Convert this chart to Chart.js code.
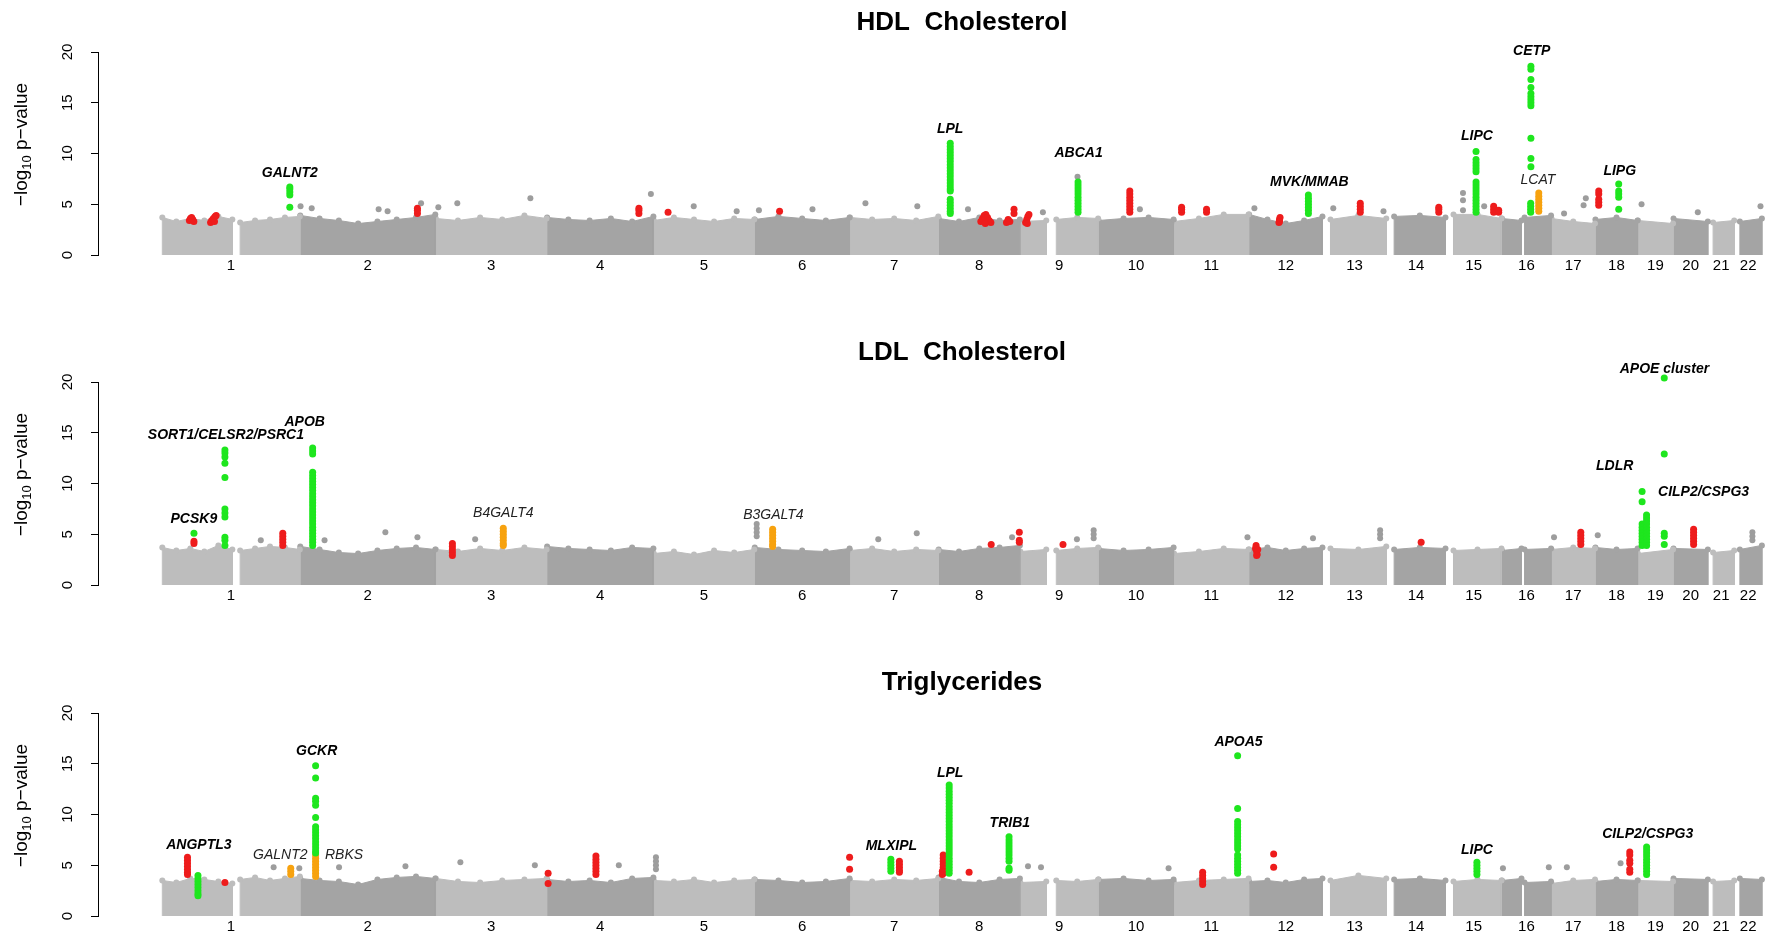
<!DOCTYPE html>
<html><head><meta charset="utf-8">
<script src="https://cdn.jsdelivr.net/npm/chart.js@4.4.1/dist/chart.umd.min.js"></script>
<style>
html,body{margin:0;padding:0;background:#fff;width:1769px;height:935px;overflow:hidden}
canvas{position:absolute;left:0}
</style></head><body>
<canvas id="c1" width="1769" height="300" style="top:0px"></canvas>
<canvas id="c2" width="1769" height="315" style="top:300px"></canvas>
<canvas id="c3" width="1769" height="320" style="top:615px"></canvas>
<script>
// ---------- genome layout (hg18 chromosome lengths, Mb) ----------
const chromNames = ['1','2','3','4','5','6','7','8','9','10','11','12','13','14','15','16','17','18','19','20','21','22'];
const chromLengths = [247.25,242.95,199.5,191.27,180.86,170.9,158.82,146.27,140.27,135.37,134.45,132.35,114.14,106.37,100.34,88.83,78.77,76.12,63.81,62.44,46.94,49.69];
// covered stretches of each chromosome: [chr, start Mb, end Mb]
const chromSegments = [[1,0.5,126],[1,140,247],[2,0.5,242.5],[3,0.5,199],[4,0.5,191],[5,0.5,180.5],[6,0.5,170.5],[7,0.5,158.5],[8,0.5,146],[9,0.5,47],[9,65,140],[10,0.5,135],[11,0.5,134],[12,0.5,132],[13,14,114],[14,14,106],[15,14,100],[16,0.5,35.5],[16,41,88.5],[17,0.5,78.5],[18,0.5,76],[19,0.5,63.5],[20,0.5,62],[21,9,46.8],[22,10,49.5]];
const yTicks = [0,5,10,15,20];

// ---------- HDL ----------
const hdlTop = [[3.7,3.3,3.6,3.4,3.8,3.5],[3.2,3.4,3.5,3.7,3.8],[3.9,3.6,3.4,3.1,3.3,3.5,3.7,4.0],[3.6,3.4,3.7,3.5,3.9,3.6],[3.7,3.5,3.4,3.6,3.3,3.8],[3.4,3.7,3.5,3.3,3.6,3.5],[3.5,3.8,3.6,3.4,3.7],[3.7,3.5,3.6,3.4,3.8],[3.6,3.3,3.7,3.4,3.5],[3.3,3.4],[3.5,3.7,3.6],[3.4,3.6,3.7,3.5],[3.3,3.6,4.0,4.0],[4.0,3.5,3.1,3.4,3.8],[3.5,3.9,3.6],[3.8,3.9,3.7],[4.0,4.0,3.6],[3.6,3.4],[3.7,3.9],[3.6,3.3,3.1],[3.5,3.7,3.4],[3.4,3.1],[3.6,3.3],[3.2,3.4],[3.3,3.6]];
const hdlGreen = [
 [1,229,6.7],[1,229,6.5],[1,229,6.2],[1,229,5.9],[1,229,4.7],
 [8,21.2,11.0],[8,21.2,10.7],[8,21.2,10.4],[8,21.2,10.1],[8,21.2,9.8],[8,21.2,9.5],[8,21.2,9.2],[8,21.2,8.9],[8,21.2,8.6],[8,21.2,8.3],[8,21.2,8.0],[8,21.2,7.7],[8,21.2,7.4],[8,21.2,7.1],[8,21.2,6.8],[8,21.2,6.5],[8,21.2,6.3],[8,21.2,5.5],[8,21.2,5.2],[8,21.2,4.9],[8,21.2,4.6],[8,21.2,4.3],[8,21.2,4.1],
 [9,104,7.2],[9,104,6.9],[9,104,6.6],[9,104,6.3],[9,104,6.0],[9,104,5.7],[9,104,5.4],[9,104,5.1],[9,104,4.8],[9,104,4.5],[9,104,4.2],
 [12,106.8,5.9],[12,106.8,5.6],[12,106.8,5.3],[12,106.8,5.0],[12,106.8,4.7],[12,106.8,4.4],[12,106.8,4.1],
 [15,54.4,10.2],[15,54.4,9.4],[15,54.4,9.1],[15,54.4,8.8],[15,54.4,8.5],[15,54.4,8.2],[15,54.4,7.2],[15,54.4,6.9],[15,54.4,6.6],[15,54.4,6.3],[15,54.4,6.0],[15,54.4,5.7],[15,54.4,5.4],[15,54.4,5.1],[15,54.4,4.8],[15,54.4,4.5],[15,54.4,4.2],
 [16,52.4,18.6],[16,52.4,18.3],[16,52.4,17.3],[16,52.4,16.5],[16,52.4,15.9],[16,52.4,15.6],[16,52.4,15.3],[16,52.4,15.0],[16,52.4,14.7],[16,52.4,11.5],[16,52.4,9.5],[16,52.4,8.7],[16,52,5.1],[16,52,4.8],[16,52,4.5],[16,52,4.2],
 [18,42.2,7.0],[18,42.2,6.3],[18,42.2,6.0],[18,42.2,5.7],[18,42.2,4.5]
];
const hdlRed = [
 [1,49,3.4],[1,51,3.6],[1,53,3.7],[1,55,3.5],[1,57,3.3],
 [1,87,3.2],[1,89,3.4],[1,92,3.6],[1,95,3.8],[1,97,3.9],[1,94,3.3],
 [2,210.5,4.1],[2,210.5,4.4],[2,210.5,4.6],
 [4,165,4.1],[4,165,4.4],[4,165,4.6],[5,26,4.2],[6,45,4.3],
 [8,76,3.3],[8,79,3.6],[8,82,3.9],[8,85,4.0],[8,88,3.7],[8,91,3.4],[8,94,3.2],[8,84,3.1],
 [8,122,3.2],[8,125,3.5],[8,128,3.3],[8,135.5,4.1],[8,135.5,4.5],
 [9,10,3.2],[9,12,3.5],[9,14,3.8],[9,16,4.0],[9,13,3.1],
 [10,56.5,6.3],[10,56.5,6.0],[10,56.5,5.7],[10,56.5,5.4],[10,56.5,5.1],[10,56.5,4.8],[10,56.5,4.5],[10,56.5,4.2],
 [11,14,4.2],[11,14,4.5],[11,14,4.7],[11,58.7,4.2],[11,58.7,4.5],
 [12,54,3.2],[12,55,3.5],[12,56,3.7],[12,55,3.3],
 [13,67.4,4.2],[13,67.4,4.5],[13,67.4,4.8],[13,67.4,5.1],
 [14,94,4.2],[14,94,4.5],[14,94,4.7],
 [15,86,4.2],[15,86,4.5],[15,86,4.8],[15,95,4.2],[15,95,4.4],
 [18,6.4,4.9],[18,6.4,5.2],[18,6.4,5.5],[18,6.4,6.0],[18,6.4,6.3]
];
const hdlOrange = [[16,66.5,6.1],[16,66.5,5.8],[16,66.5,5.5],[16,66.5,5.2],[16,66.5,4.9],[16,66.5,4.6],[16,66.5,4.3]];
const hdlGray = [[4,186.5,6.0],[9,103,7.7],[2,217,5.1],[3,39,5.1],[3,170,5.6],[2,1,4.8],[2,21,4.6],[2,141,4.5],[2,157,4.3],[3,5,4.7],[7,28,5.1],[7,121,4.8],[8,53,4.5],[9,41,4.2],[10,74.6,4.5],[5,72,4.8],[5,149,4.3],[6,8,4.4],[6,104,4.5],[12,10,4.6],[13,19,4.6],[13,109,4.3],[15,31,6.1],[15,31,5.4],[15,31,4.4],[15,69,4.8],[17,62,5.6],[17,58,4.9],[19,7,5.0],[20,44,4.2],[22,47,4.8],[17,23,4.1]];
const hdlLabels = [['GALNT2',1,229,8.1,1],['LPL',8,21,12.4,1],['ABCA1',9,105,10.0,1],['MVK/MMAB',12,108.5,7.2,1],['LIPC',15,56,11.7,1],['CETP',16,54,20.1,1],['LCAT',16,65,7.4,0],['LIPG',18,44,8.3,1]];

// ---------- LDL ----------
const ldlTop = [[3.7,3.4,3.6,3.3,3.9,3.5],[3.4,3.6,3.8,3.7,3.5],[3.8,3.5,3.2,3.1,3.4,3.6,3.7,3.5],[3.5,3.3,3.6,3.4,3.7,3.5],[3.8,3.6,3.5,3.4,3.7,3.6],[3.1,3.3,3.0,3.4,3.2,3.5],[3.7,3.5,3.4,3.3,3.6],[3.4,3.6,3.3,3.5,3.4],[3.5,3.3,3.6,3.7,3.9],[3.3,3.5],[3.4,3.6,3.7],[3.6,3.4,3.5,3.7],[3.1,3.3,3.6,3.5],[3.5,3.7,3.4,3.6,3.7],[3.6,3.5,3.8],[3.5,3.7,3.6],[3.4,3.5,3.6],[3.4,3.6],[3.5,3.6],[3.5,3.7,3.6],[3.7,3.5,3.6],[3.1,3.5],[3.6,3.5],[3.2,3.4],[3.5,3.9]];
const ldlGreen = [
 [1,57.2,5.1],
 [1,112.7,13.3],[1,112.7,13.0],[1,112.7,12.6],[1,112.7,12.0],[1,112.7,10.6],[1,112.7,7.5],[1,112.7,7.1],[1,112.7,6.7],[1,112.7,4.7],[1,112.7,4.4],[1,112.7,3.9],
 [2,22.7,13.5],[2,22.7,13.2],[2,22.7,12.9],[2,22.7,11.1],[2,22.7,10.8],[2,22.7,10.5],[2,22.7,10.2],[2,22.7,9.9],[2,22.7,9.6],[2,22.7,9.3],[2,22.7,9.0],[2,22.7,8.7],[2,22.7,8.4],[2,22.7,8.1],[2,22.7,7.8],[2,22.7,7.5],[2,22.7,7.2],[2,22.7,6.9],[2,22.7,6.6],[2,22.7,6.3],[2,22.7,6.0],[2,22.7,5.7],[2,22.7,5.4],[2,22.7,5.1],[2,22.7,4.8],[2,22.7,4.5],[2,22.7,4.2],[2,22.7,3.9],
 [19,8,9.2],[19,8,8.2],[19,8,6.0],[19,8,5.7],[19,8,5.4],[19,8,5.1],[19,8,4.8],[19,8,4.5],[19,8,4.2],[19,8,3.9],
 [19,16,6.9],[19,16,6.6],[19,16,6.3],[19,16,6.0],[19,16,5.7],[19,16,5.4],[19,16,5.1],[19,16,4.8],[19,16,4.5],[19,16,4.2],[19,16,3.9],
 [19,47.7,20.4],[19,47.7,12.9],[19,47.7,5.1],[19,47.7,4.8],[19,47.7,4.0]
];
const ldlRed = [
 [1,57.2,4.3],[1,57.2,4.1],
 [1,216.4,5.1],[1,216.4,4.8],[1,216.4,4.5],[1,216.4,4.2],[1,216.4,3.9],
 [3,30.2,4.1],[3,30.2,3.8],[3,30.2,3.5],[3,30.2,3.2],[3,30.2,2.9],
 [8,94.6,4.0],[8,145,5.2],[8,145,4.4],[8,145,4.2],[9,77,4.0],
 [12,12,3.6],[12,13,3.9],[12,14,3.3],[12,15,3.0],[12,16,3.5],[12,14,2.9],
 [14,62.4,4.2],
 [17,53,5.2],[17,53,4.9],[17,53,4.6],[17,53,4.3],[17,53,4.0],
 [20,36.5,5.5],[20,36.5,5.2],[20,36.5,4.9],[20,36.5,4.6],[20,36.5,4.3],[20,36.5,4.0]
];
const ldlOrange = [
 [3,121.4,5.6],[3,121.4,5.3],[3,121.4,5.0],[3,121.4,4.7],[3,121.4,4.4],[3,121.4,4.1],[3,121.4,3.9],
 [6,32.6,5.5],[6,32.6,5.2],[6,32.6,4.9],[6,32.6,4.6],[6,32.6,4.3],[6,32.6,4.0],[6,32.6,3.8]
];
const ldlGray = [[6,4,6.0],[6,4,5.6],[6,4,5.2],[6,4,4.8],[2,153,5.2],[2,210.5,4.7],[2,44,4.4],[1,177,4.4],[3,71,4.5],[9,132,5.4],[9,132,5.0],[9,132,4.6],[7,120,5.1],[8,132,4.7],[9,102,4.5],[7,51,4.5],[13,103,5.4],[13,103,5.0],[13,103,4.6],[17,5,4.7],[18,4.6,4.9],[22,32.5,5.2],[22,32.5,4.8],[22,32.5,4.4],[11,132,4.7],[12,115,4.6]];
const ldlLabels = [['SORT1/CELSR2/PSRC1',1,114.5,14.8,1],['APOB',2,8.5,16.0,1],['PCSK9',1,57,6.5,1],['B4GALT4',3,121.5,7.1,0],['B3GALT4',6,34,6.9,0],['APOE cluster',19,48,21.3,1],['LDLR',18,35,11.7,1],['CILP2/CSPG3',20,54.3,9.1,1]];

// ---------- Triglycerides ----------
const tgTop = [[3.5,3.3,3.7,3.6,3.4,3.2],[3.6,3.8,3.5,3.7,3.9],[3.7,3.5,3.4,3.1,3.6,3.8,3.9,3.7],[3.7,3.4,3.3,3.5,3.6,3.7],[3.6,3.4,3.5,3.3,3.7,3.8],[3.5,3.4,3.6,3.3,3.5,3.6],[3.6,3.5,3.3,3.4,3.7],[3.5,3.4,3.6,3.5,3.7],[3.8,3.4,3.3,3.6,3.7],[3.3,3.4],[3.5,3.4,3.6],[3.6,3.7,3.5,3.6],[3.3,3.5,3.6,3.7],[3.4,3.5,3.3,3.6,3.7],[3.5,4.0,3.7],[3.6,3.7,3.5],[3.4,3.6,3.5],[3.5,3.7],[3.3,3.4],[3.2,3.5,3.6],[3.4,3.6,3.5],[3.5,3.4],[3.7,3.6],[3.4,3.5],[3.7,3.6]];
const tgGreen = [
 [1,64.4,4.0],[1,64.4,3.7],[1,64.4,3.4],[1,64.4,3.1],[1,64.4,2.8],[1,64.4,2.5],[1,64.4,2.2],[1,64.4,2.0],
 [2,28,14.8],[2,28,13.6],[2,28,11.6],[2,28,11.3],[2,28,10.9],[2,28,9.7],[2,28,8.8],[2,28,8.5],[2,28,8.2],[2,28,7.9],[2,28,7.6],[2,28,7.3],[2,28,7.0],[2,28,6.7],[2,28,6.4],[2,28,6.2],
 [7,73.6,5.6],[7,73.6,5.3],[7,73.6,5.0],[7,73.6,4.7],[7,73.6,4.4],
 [8,19.3,12.9],[8,19.3,12.6],[8,19.3,12.3],[8,19.3,12.0],[8,19.3,11.7],[8,19.3,11.4],[8,19.3,11.1],[8,19.3,10.8],[8,19.3,10.5],[8,19.3,10.2],[8,19.3,9.9],[8,19.3,9.6],[8,19.3,9.3],[8,19.3,9.0],[8,19.3,8.7],[8,19.3,8.4],[8,19.3,8.1],[8,19.3,7.8],[8,19.3,7.5],[8,19.3,7.2],[8,19.3,6.9],[8,19.3,6.6],[8,19.3,6.3],[8,19.3,6.0],[8,19.3,5.7],[8,19.3,5.4],[8,19.3,5.1],[8,19.3,4.8],[8,19.3,4.5],[8,19.3,4.2],
 [8,126.6,7.8],[8,126.6,7.5],[8,126.6,7.2],[8,126.6,6.9],[8,126.6,6.6],[8,126.6,6.3],[8,126.6,6.0],[8,126.6,5.7],[8,126.6,5.4],[8,126.6,4.7],[8,126.6,4.5],
 [11,114.4,15.8],[11,114.4,10.6],[11,114.4,9.3],[11,114.4,9.0],[11,114.4,8.7],[11,114.4,8.4],[11,114.4,8.1],[11,114.4,7.8],[11,114.4,7.5],[11,114.4,7.2],[11,114.4,6.9],[11,114.4,6.6],[11,114.4,6.0],[11,114.4,5.7],[11,114.4,5.4],[11,114.4,5.1],[11,114.4,4.8],[11,114.4,4.5],[11,114.4,4.2],
 [15,56,5.3],[15,56,5.0],[15,56,4.7],[15,56,4.4],[15,56,4.1],
 [19,16.1,6.8],[19,16.1,6.5],[19,16.1,6.2],[19,16.1,5.9],[19,16.1,5.6],[19,16.1,5.3],[19,16.1,5.0],[19,16.1,4.7],[19,16.1,4.4],[19,16.1,4.1]
];
const tgRed = [
 [1,45.6,5.8],[1,45.6,5.5],[1,45.6,5.2],[1,45.6,4.9],[1,45.6,4.6],[1,45.6,4.3],[1,45.6,4.1],
 [1,112.7,3.3],[4,2.3,4.2],[4,2.3,3.2],
 [4,88,5.9],[4,88,5.6],[4,88,5.3],[4,88,5.0],[4,88,4.7],[4,88,4.4],[4,88,4.1],
 [6,170.5,5.8],[6,170.5,4.6],
 [7,88.9,5.4],[7,88.9,5.1],[7,88.9,4.8],[7,88.9,4.5],[7,88.9,4.3],
 [8,8.6,6.0],[8,8.6,5.7],[8,8.6,5.4],[8,8.6,5.1],[8,8.6,4.8],[8,8.6,4.5],[8,8.6,4.2],[8,7,4.4],[8,7,4.1],[8,10,5.0],[8,10,4.3],
 [8,55,4.3],
 [11,51.7,4.3],[11,51.7,4.0],[11,51.7,3.7],[11,51.7,3.4],[11,51.7,3.1],
 [12,44.5,6.1],[12,44.5,4.8],
 [18,62,6.3],[18,62,6.0],[18,62,5.5],[18,62,5.2],[18,62,4.6],[18,62,4.3]
];
const tgOrange = [[1,230.7,4.7],[1,230.7,4.4],[1,230.7,4.1],[2,28,6.0],[2,28,5.7],[2,28,5.4],[2,28,5.1],[2,28,4.8],[2,28,4.5],[2,28,4.2],[2,28,3.9]];
const tgGray = [[1,200,4.8],[1,246,4.7],[2,70,4.8],[2,189,4.9],[3,44.5,5.3],[3,178,5.0],[4,129,5.0],[5,4.3,5.8],[5,4.3,5.4],[5,4.3,5.0],[5,4.3,4.6],[9,14.3,4.9],[9,37.6,4.8],[10,126,4.7],[16,2.3,4.7],[16,84.5,4.8],[17,28,4.8],[18,45.5,5.2]];
const tgLabels = [['ANGPTL3',1,66,7.0,1],['GALNT2',1,212,6.0,0],['RBKS',2,79,6.0,0],['GCKR',2,30,16.2,1],['MLXIPL',7,74.5,6.9,1],['LPL',8,21,14.1,1],['TRIB1',8,128,9.1,1],['APOA5',11,116,17.1,1],['LIPC',15,56,6.5,1],['CILP2/CSPG3',19,18,8.1,1]];

// ---------- drawing ----------
const FONT = "'Liberation Sans', Arial, Helvetica, sans-serif";
const LIGHT = '#bdbdbd', DARK = '#a4a4a4';
const GREEN = '#1ee61e', RED = '#ee1c1c', ORANGE = '#f7a20f', GRAY = '#9d9d9d';
const offsets = []; let acc = 0;
chromLengths.forEach(l => { offsets.push(acc); acc += l; });
const genomeEnd = acc;
const chromCenters = chromLengths.map((l, i) => offsets[i] + l / 2);
const toXY = arr => arr.map(([c, p, v]) => ({x: offsets[c - 1] + p, y: v}));

function bodySets(profile) {
  return chromSegments.map(([c, s, e], i) => {
    const vals = profile[i];
    const x0 = offsets[c - 1] + s, x1 = offsets[c - 1] + e;
    const pts = [{x: x0, y: 0}];
    vals.forEach((v, k) => pts.push({x: x0 + (x1 - x0) * k / (vals.length - 1), y: v}));
    pts.push({x: x1, y: 0});
    const col = (c % 2) ? LIGHT : DARK;
    return {type: 'line', data: pts, fill: 'origin', backgroundColor: col, borderColor: col,
      borderWidth: 1, pointRadius: ctx => (ctx.raw && ctx.raw.y > 0 ? 3 : 0), pointHoverRadius: 0,
      pointBackgroundColor: col, pointBorderWidth: 0, order: 5};
  });
}
function pointSet(arr, color, r, order) {
  return {type: 'line', showLine: false, data: toXY(arr), pointRadius: r, pointHoverRadius: r,
    pointBackgroundColor: color, pointBorderColor: color, pointBorderWidth: 0,
    borderColor: color, backgroundColor: color, order, clip: false};
}

function decor(cfg) {
  return {
    id: 'decor',
    afterDraw(chart) {
      const ctx = chart.ctx, xs = chart.scales.x, ys = chart.scales.y, ca = chart.chartArea;
      ctx.save();
      // y axis line from 0 to the top tick
      ctx.strokeStyle = '#000'; ctx.lineWidth = 1;
      ctx.beginPath();
      ctx.moveTo(Math.round(ca.left) - 0.5, ys.getPixelForValue(yTicks[0]));
      ctx.lineTo(Math.round(ca.left) - 0.5, ys.getPixelForValue(yTicks[yTicks.length - 1]));
      ctx.stroke();
      // panel title
      ctx.font = 'bold 26px ' + FONT; ctx.fillStyle = '#000';
      ctx.textAlign = 'center'; ctx.textBaseline = 'alphabetic';
      ctx.fillText(cfg.title, xs.getPixelForValue(genomeEnd / 2), cfg.titleBaseline);
      // y-axis title with subscript
      const parts = [['\u2212log', 19, 0], ['10', 13, 5], [' p\u2212value', 19, 0]];
      let total = 0;
      parts.forEach(p => { ctx.font = p[1] + 'px ' + FONT; total += ctx.measureText(p[0]).width; });
      ctx.save();
      ctx.translate(22, ys.getPixelForValue(10) - 9);
      ctx.rotate(-Math.PI / 2);
      ctx.textAlign = 'left'; ctx.textBaseline = 'middle';
      let px = -total / 2;
      parts.forEach(p => { ctx.font = p[1] + 'px ' + FONT; ctx.fillText(p[0], px, p[2]); px += ctx.measureText(p[0]).width; });
      ctx.restore();
      // gene labels
      ctx.textAlign = 'center'; ctx.textBaseline = 'middle';
      cfg.labels.forEach(([t, c, p, v, b]) => {
        ctx.font = (b ? 'italic bold 14px ' : 'italic 14px ') + FONT;
        ctx.fillStyle = b ? '#000' : '#222';
        ctx.fillText(t, xs.getPixelForValue(offsets[c - 1] + p), ys.getPixelForValue(v));
      });
      ctx.restore();
    }
  };
}

function panel(id, cfg) {
  const canvas = document.getElementById(id);
  const H = canvas.height;
  return new Chart(canvas, {
    type: 'line',
    data: {datasets: [
      pointSet(cfg.green, GREEN, 3.5, 1),
      pointSet(cfg.orange, ORANGE, 3.5, 2),
      pointSet(cfg.red, RED, 3.5, 3),
      pointSet(cfg.gray, GRAY, 3, 4),
      ...bodySets(cfg.top)
    ]},
    options: {
      responsive: false, animation: false, devicePixelRatio: 1,
      layout: {padding: {top: cfg.areaTop, left: 0, right: 0, bottom: 0}},
      plugins: {legend: {display: false}, tooltip: {enabled: false}, title: {display: false}},
      scales: {
        x: {type: 'linear', min: -113, max: 2874,
          afterBuildTicks: s => { s.ticks = chromCenters.map(v => ({value: v})); },
          afterFit: s => { s.height = H - cfg.areaBottom; },
          grid: {display: false, drawTicks: false, tickLength: 0}, border: {display: false},
          ticks: {autoSkip: false, minRotation: 0, maxRotation: 0, padding: 2, color: '#000',
            font: {size: 15, family: FONT}, callback: (v, i) => chromNames[i]}
        },
        y: {type: 'linear', min: 0, max: 21,
          afterBuildTicks: s => { s.ticks = yTicks.map(v => ({value: v})); },
          afterFit: s => { s.width = 99; s.paddingTop = 0; s.paddingBottom = 0; },
          border: {display: false},
          grid: {display: true, drawOnChartArea: false, drawTicks: true, tickLength: 8, color: '#000', tickColor: '#000', lineWidth: 1},
          ticks: {minRotation: 90, maxRotation: 90, crossAlign: 'center', padding: 15, color: '#000',
            font: {size: 15, family: FONT}}
        }
      }
    },
    plugins: [decor(cfg)]
  });
}

// chart area spans 0..21 so the highest SNP (20.4) stays inside; the axis line stops at 20
panel('c1', {title: 'HDL  Cholesterol', titleBaseline: 30, areaTop: 41.85, areaBottom: 255,
  top: hdlTop, green: hdlGreen, red: hdlRed, orange: hdlOrange, gray: hdlGray, labels: hdlLabels});
panel('c2', {title: 'LDL  Cholesterol', titleBaseline: 60, areaTop: 71.85, areaBottom: 285,
  top: ldlTop, green: ldlGreen, red: ldlRed, orange: ldlOrange, gray: ldlGray, labels: ldlLabels});
panel('c3', {title: 'Triglycerides', titleBaseline: 75, areaTop: 87.85, areaBottom: 301,
  top: tgTop, green: tgGreen, red: tgRed, orange: tgOrange, gray: tgGray, labels: tgLabels});
</script>
</body></html>
